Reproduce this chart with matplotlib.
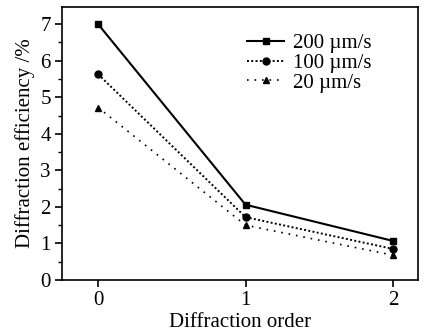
import matplotlib
matplotlib.use("Agg")
import matplotlib.pyplot as plt
from matplotlib.ticker import MultipleLocator

plt.rcParams['font.family'] = ['Liberation Serif', 'DejaVu Serif']

orders = [0, 1, 2]
eff_200 = [7.0, 2.06, 1.07]
eff_100 = [5.63, 1.72, 0.85]
eff_20 = [4.72, 1.50, 0.68]
labels = ["200 \u00b5m/s", "100 \u00b5m/s", "20 \u00b5m/s"]

fig = plt.figure(figsize=(4.27, 3.35), dpi=100)
ax = fig.add_axes([62/427, 1-280/335, (418-62)/427, (280-7)/335])

ax.plot(orders, eff_200, '-', color='black', lw=1.5, marker='s', ms=5, label=labels[0])
ax.plot(orders, eff_100, color='black', lw=1.4, ls=(0, (1, 1.2)), marker='o', ms=5, label=labels[1])
ax.plot(orders, eff_20, color='black', lw=1.2, ls=(0, (1, 3.5)), marker='^', ms=5, label=labels[2])

ax.set_xlim(-0.245, 2.17)
ax.set_ylim(0, 7.47)
ax.set_xticks([0, 1, 2])
ax.yaxis.set_major_locator(MultipleLocator(1))
ax.yaxis.set_minor_locator(MultipleLocator(0.5))
ax.tick_params(axis='both', which='major', direction='out', length=5, width=1.2, labelsize=15, colors='black', pad=3)
ax.tick_params(axis='y', which='minor', direction='out', length=3, width=1)
for s in ax.spines.values():
    s.set_linewidth(1.2)

ax.set_xlabel("Diffraction order", fontsize=15, labelpad=2)
ax.set_ylabel("Diffraction efficiency /%", fontsize=15, labelpad=4)

ax.legend(loc='upper left', bbox_to_anchor=(0.49, 0.94), frameon=False, fontsize=15,
          handlelength=1.8, handletextpad=0.4, labelspacing=0.0, borderpad=0.0)

fig.savefig("out.png", dpi=100)
